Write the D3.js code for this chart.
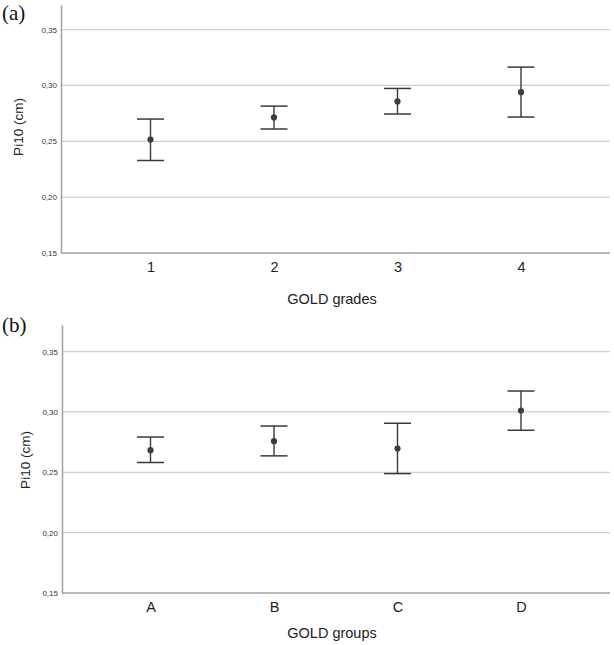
<!DOCTYPE html>
<html><head><meta charset="utf-8">
<script src="https://cdn.jsdelivr.net/npm/d3@7"></script>
<style>body{margin:0;background:#fff}svg{display:block}</style>
</head><body>
<svg id="chart" width="614" height="645"></svg>
<script>
const gradeCats = ["1","2","3","4"];
const gradeMean = [0.2515, 0.2714, 0.2857, 0.294];
const gradeLow  = [0.2328, 0.261, 0.2744, 0.2717];
const gradeHigh = [0.2699, 0.2815, 0.2973, 0.3164];

const groupCats = ["A","B","C","D"];
const groupMean = [0.2683, 0.2758, 0.2697, 0.3011];
const groupLow  = [0.2581, 0.2636, 0.2489, 0.2848];
const groupHigh = [0.2792, 0.2883, 0.2906, 0.3173];

const yTicks = [0.15, 0.20, 0.25, 0.30, 0.35];
const yTickLabels = ["0,15","0,20","0,25","0,30","0,35"];

const svg = d3.select("#chart");

function panel(o) {
  const g = svg.append("g");
  const x = d3.scalePoint().domain(o.cats).range([150.5, 521]);
  const y = d3.scaleLinear().domain([0.15, 0.372]).range([o.bottom, o.top]);
  // gridlines
  g.selectAll("line.grid").data(yTicks.slice(1)).join("line")
    .attr("x1", o.left).attr("x2", 610)
    .attr("y1", d => y(d)).attr("y2", d => y(d))
    .attr("stroke", "#cfcfcf").attr("stroke-width", 1.2);
  // y axis
  const ya = d3.axisLeft(y).tickValues(yTicks).tickSize(0).tickPadding(4)
    .tickFormat((d, i) => yTickLabels[i]);
  const yg = g.append("g").attr("transform", `translate(${o.left},0)`).call(ya);
  yg.select(".domain").attr("stroke", "#a0a0a0").attr("stroke-width", 1.5);
  yg.selectAll("text").attr("font-family", "Liberation Sans, Arial, sans-serif")
    .attr("font-size", 8).attr("fill", "#333");
  // x axis
  const xa = d3.axisBottom(x).tickSize(0).tickPadding(9);
  const xg = g.append("g").attr("transform", `translate(0,${o.bottom})`).call(xa);
  xg.select(".domain").attr("d", `M${o.left},0H610`).attr("stroke", "#a0a0a0").attr("stroke-width", 1.5);
  xg.selectAll("text").attr("font-family", "Liberation Sans, Arial, sans-serif")
    .attr("font-size", 14.5).attr("fill", "#222");
  // error bars
  const data = o.cats.map((c, i) => ({c, m: o.mean[i], lo: o.low[i], hi: o.high[i]}));
  const eb = g.selectAll("g.eb").data(data).join("g");
  eb.append("line").attr("x1", d => x(d.c)).attr("x2", d => x(d.c))
    .attr("y1", d => y(d.lo)).attr("y2", d => y(d.hi))
    .attr("stroke", "#3a3a3a").attr("stroke-width", 1.4);
  eb.append("line").attr("x1", d => x(d.c) - 13.5).attr("x2", d => x(d.c) + 13.5)
    .attr("y1", d => y(d.hi)).attr("y2", d => y(d.hi))
    .attr("stroke", "#3a3a3a").attr("stroke-width", 1.5);
  eb.append("line").attr("x1", d => x(d.c) - 13.5).attr("x2", d => x(d.c) + 13.5)
    .attr("y1", d => y(d.lo)).attr("y2", d => y(d.lo))
    .attr("stroke", "#3a3a3a").attr("stroke-width", 1.5);
  eb.append("circle").attr("cx", d => x(d.c)).attr("cy", d => y(d.m)).attr("r", 3.1)
    .attr("fill", "#3c3c3c");
  // titles
  g.append("text").attr("x", 332).attr("y", o.xTitleY).attr("text-anchor", "middle")
    .attr("font-family", "Liberation Sans, Arial, sans-serif").attr("font-size", 14.5)
    .attr("fill", "#222").text(o.xTitle);
  g.append("text").attr("transform", `translate(${o.yTitleX},${o.yTitleY}) rotate(-90)`)
    .attr("text-anchor", "middle").attr("dy", "0.35em")
    .attr("font-family", "Liberation Sans, Arial, sans-serif").attr("font-size", 13.5)
    .attr("fill", "#222").text("Pi10 (cm)");
  g.append("text").attr("x", 2).attr("y", o.labelY)
    .attr("font-family", "Liberation Serif, Times New Roman, serif").attr("font-size", 21)
    .attr("fill", "#111").text(o.label);
}

panel({cats: gradeCats, mean: gradeMean, low: gradeLow, high: gradeHigh,
  top: 5, bottom: 253, left: 61, xTitle: "GOLD grades", xTitleY: 304,
  yTitleX: 18, yTitleY: 127, label: "(a)", labelY: 20});
panel({cats: groupCats, mean: groupMean, low: groupLow, high: groupHigh,
  top: 325, bottom: 593, left: 62, xTitle: "GOLD groups", xTitleY: 638,
  yTitleX: 25, yTitleY: 460, label: "(b)", labelY: 332});
</script>
</body></html>
